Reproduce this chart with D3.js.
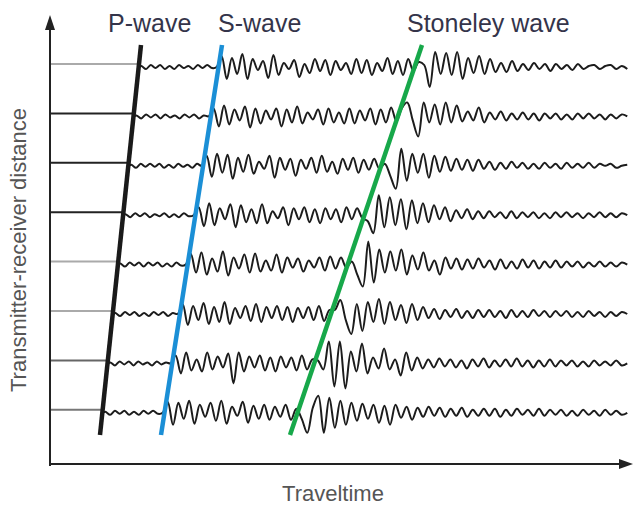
<!DOCTYPE html>
<html>
<head>
<meta charset="utf-8">
<script src="https://cdn.jsdelivr.net/npm/d3@7"></script>
<style>
  body { margin: 0; background: #fff; }
  text { font-family: "Liberation Sans", Arial, sans-serif; }
</style>
</head>
<body>
<div id="svgcontainer"></div>
<script>
var width = 633;
var height = 507;

// receivers, top trace = farthest
var distances = [8, 7, 6, 5, 4, 3, 2, 1];
// arrival times
var pArrival = [91, 86, 81, 75, 70, 65, 60, 55];
var sArrival = [171, 163, 156, 148, 140, 132, 125, 117];
var stArrival = [368, 351, 334, 317, 301, 284, 267, 251];
var traceEnd = 582;

// moveout lines, endpoints
var pLine = [{d: 8.385, t: 93}, {d: 0.49, t: 52}];
var sLine = [{d: 8.385, t: 174}, {d: 0.49, t: 113}];
var stLine = [{d: 8.385, t: 374}, {d: 0.49, t: 242}];

var waveNames = ["P-wave", "S-wave", "Stoneley wave"];

// wiggle extrema, P to S
var quiet = [
  [1,-2,2,-1,2,-2,1,-2,2,-1,1,-2,2,-1,2,-1,0],
  [1,-2,2,-1,2,-2,2,-1,1,-2,2,-1,2,-2,1,0],
  [1,-2,2,-1,2,-1,2,-2,1,-2,2,-1,1,-2,2,0],
  [1,-2,2,-1,2,-2,1,-1,2,-2,1,-2,2,-1,0],
  [1,-2,2,-1,2,-2,2,-1,2,-2,1,-2,2,-1,0],
  [1,-2,2,-1,2,-2,1,-2,2,-1,2,-2,1,0],
  [1,-2,2,-1,2,-2,2,-1,1,-2,2,-1,1,0],
  [1,-2,2,-1,2,-2,1,-2,2,-1,2,-1,0]
];
// S to Stoneley
var shear = [
  [11,-12,9,-7,13,-12,8,-3,6,-11,12,-8,4,-2,7,-10,3,-6,8,-4,7,-8,6,-3,4,-7,8,-6,7,-8,4,-4,9,-7,6,-8,8,-4],
  [8,-10,11,-8,7,-4,10,-11,8,-7,6,-3,8,-10,7,-6,10,-7,4,-3,7,-8,8,-6,4,-7,8,-7,6,-4,8,-8,7,-6,9,-5],
  [10,-11,12,-7,11,-13,8,-6,11,-8,4,-3,10,-12,8,-4,7,-10,6,-3,8,-7,10,-6,4,-8,7,-4,8,-7,6,-4,7,-3],
  [8,-11,12,-10,7,-4,11,-12,10,-7,6,-8,11,-8,4,-3,8,-10,7,-4,8,-7,6,-8,7,-4,6,-7,8,-4,7,-3],
  [11,-8,12,-10,6,-7,13,-11,7,-4,10,-8,11,-7,4,-6,10,-8,7,-3,6,-7,4,-3,7,-6,8,-4,7,-3],
  [10,-11,8,-6,11,-10,7,-8,12,-10,6,-4,8,-7,10,-8,7,-4,8,-6,7,-8,6,-4,7,-6,8,-7,4],
  [8,-10,11,-7,4,-8,11,-6,7,-4,10,-20,11,-8,7,-4,8,-7,6,-8,7,-4,6,-7,8,-6,4],
  [11,-12,10,-6,12,-11,8,-4,10,-8,12,-11,6,-3,11,-10,7,-6,8,-7,6,-4,8,-7,4]
];
// Stoneley onward
var stoneley = [
  [5,2,-20,15,-7,14,-8,15,-12,9,-6,11,-7,8,-5,4,-5,6,-4,3,-3,4,-2,3,-4,3,-2,2,-3,3,-2,1,2,-2,1,2,-2,1,-2],
  [8,14,-4,-20,14,-6,12,-8,14,-6,11,-5,5,-4,9,-6,4,-3,5,-4,3,-3,4,-3,3,-4,3,-2,3,-3,2,-3,3,-2,3,-2,2,-3,2,-2,2,0],
  [2,-10,-23,17,-15,12,-7,12,-12,10,-6,9,-5,7,-4,6,-5,6,-3,4,-4,3,-3,4,-2,3,-3,2,-3,3,-2,2,-3,3,-2,2,-2,3,-2,2,0,2,-2,0,1],
  [-6,-18,20,-12,18,-10,16,-14,15,-8,12,-7,10,-4,8,-6,5,-3,6,-4,4,-3,4,-2,3,-3,4,-3,3,-2,3,-3,2,-3,3,-2,3,-2,2,-3,2,-2,3,-2,2,-2,2,0],
  [3,-10,-22,23,-18,15,-8,13,-6,15,-10,9,-5,12,-6,4,-10,7,-4,6,-5,5,-4,6,-3,4,-5,5,-4,3,-4,5,-3,4,-4,3,-3,4,-3,3,-2,3,-3,2,-2,3,-2,2,-2,2,0],
  [4,14,-6,-20,10,-17,12,-8,15,-10,12,-6,9,-9,10,-6,7,-4,5,-5,4,-3,5,-4,3,-4,4,-3,4,-3,3,-4,4,-3,3,-3,4,-2,3,-3,3,-2,3,-3,2,-3,3,-2,2,-3,2,-2,2,0],
  [3,-6,22,-23,22,-25,12,-8,20,-10,6,-5,15,-6,4,-12,11,-7,6,-5,4,-4,5,-3,4,-4,3,-5,4,-3,5,-4,3,-3,4,-3,5,-3,3,-4,3,-3,4,-3,3,-2,3,-3,2,-3,3,-2,2,-2,3,-2,0],
  [-6,-20,5,17,-20,15,-15,12,-12,10,-8,9,-6,8,-10,7,-12,8,-5,6,-7,5,-4,6,-3,5,-4,4,-3,5,-4,3,-3,4,-3,4,-4,3,-3,4,-2,3,-3,4,-3,3,-2,3,-3,2,-3,3,-2,2,-3,3,-2,2,-2,0]
];

var leaderColors = ["#aaa", "#222", "#222", "#222", "#aaa", "#aaa", "#666", "#777"];

var svg = d3.select("#svgcontainer")
  .append("svg")
  .attr("width", width)
  .attr("height", height);

var x = d3.scaleLinear().domain([0, 582]).range([48, 630]);
var y = d3.scaleLinear().domain([1, 8]).range([409.8, 64]);
var amp = d3.scaleLinear().domain([-30, 30]).range([30, -30]);

// axes with arrows
svg.append("line")
  .attr("x1", 50).attr("y1", 466).attr("x2", 50).attr("y2", 26)
  .attr("stroke", "#222").attr("stroke-width", 2);
svg.append("path")
  .attr("d", "M50 15 L45 30 L55 30 Z")
  .attr("fill", "#222");
svg.append("line")
  .attr("x1", 49).attr("y1", 464).attr("x2", 622).attr("y2", 464)
  .attr("stroke", "#222").attr("stroke-width", 2);
svg.append("path")
  .attr("d", "M633 464 L619 459 L619 469 Z")
  .attr("fill", "#222");

// leader lines up to P arrival
svg.selectAll(".leader")
  .data(distances)
  .enter()
  .append("line")
  .attr("class", "leader")
  .attr("x1", 51)
  .attr("x2", function(d, i){ return x(pArrival[i]); })
  .attr("y1", function(d){ return y(d); })
  .attr("y2", function(d){ return y(d); })
  .attr("stroke", function(d, i){ return leaderColors[i]; })
  .attr("stroke-width", 2);

function spread(vals, t0, t1, out){
  var step = (t1 - t0) / vals.length;
  vals.forEach(function(v, k){
    out.push({t: t0 + (k + 0.5) * step, a: v});
  });
}

var line = d3.line()
  .x(function(p){ return x(p.t); })
  .y(function(p){ return amp(p.a); })
  .curve(d3.curveCatmullRom.alpha(0.5));

distances.forEach(function(d, i){
  var pts = [{t: pArrival[i], a: 0}];
  spread(quiet[i], pArrival[i], sArrival[i], pts);
  spread(shear[i], sArrival[i], stArrival[i], pts);
  spread(stoneley[i], stArrival[i], traceEnd, pts);

  svg.append("path")
    .attr("transform", "translate(0," + (y(d) + 3) + ")")
    .attr("d", line(pts))
    .attr("fill", "none")
    .attr("stroke", "#1c1c1c")
    .attr("stroke-width", 2);
});

// moveout lines
var mline = d3.line()
  .x(function(p){ return x(p.t); })
  .y(function(p){ return y(p.d); });

var lines = [pLine, sLine, stLine];
var lineColors = ["#1a1a1a", "#1b8fd6", "#17a84a"];
lines.forEach(function(l, i){
  svg.append("path")
    .attr("d", mline(l))
    .attr("stroke", lineColors[i])
    .attr("stroke-width", 4.5)
    .attr("fill", "none");
});

// labels
svg.selectAll(".wavelabel")
  .data(waveNames)
  .enter()
  .append("text")
  .attr("class", "wavelabel")
  .attr("x", function(d, i){ return [108, 218, 407][i]; })
  .attr("y", 32)
  .attr("font-size", 25)
  .attr("fill", "#34344a")
  .text(function(d){ return d; });

svg.append("text")
  .attr("x", 333)
  .attr("y", 501)
  .attr("text-anchor", "middle")
  .attr("font-size", 22)
  .attr("fill", "#555")
  .text("Traveltime");

svg.append("text")
  .attr("transform", "translate(26,250) rotate(-90)")
  .attr("text-anchor", "middle")
  .attr("font-size", 22)
  .attr("fill", "#555")
  .text("Transmitter-receiver distance");
</script>
</body>
</html>
